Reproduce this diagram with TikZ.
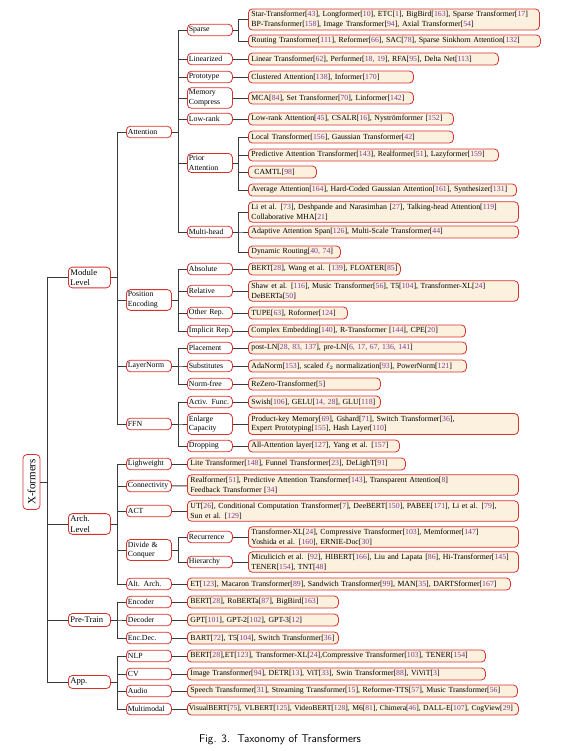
\documentclass[tikz,border=0pt]{standalone}
\usepackage{fontspec}
\setmainfont{Liberation Serif}
\usepackage{xcolor}
\usepackage{tikz}
\definecolor{TaxRed}{HTML}{D8322E}
\definecolor{TaxCream}{HTML}{FCF0DE}
\definecolor{TaxPurple}{HTML}{7E3A8E}
\definecolor{TaxLine}{HTML}{3A3A3A}
\newcommand{\leafsize}{\fontsize{7.8}{9.7}\selectfont}
\newcommand{\cit}[1]{[{\color{TaxPurple}#1}]}
\tikzset{
  taxbox/.style={draw=TaxRed,line width=0.8pt,rounded corners=4pt,fill=white,anchor=west,align=left,inner xsep=3pt,inner ysep=2.1pt,font=\leafsize},
  rootbox/.style={taxbox,anchor=center,rotate=90,minimum width=55pt,minimum height=17pt,inner xsep=2pt,align=center,font=\fontsize{11}{13}\selectfont},
  levelbox/.style={taxbox,text width=38pt,inner xsep=2pt,minimum height=13pt,font=\fontsize{8.6}{10.5}\selectfont},
  catbox/.style={taxbox,text width=42pt,inner xsep=1.5pt,minimum height=11.5pt},
  leafbox/.style={taxbox,fill=TaxCream,text width=#1,minimum height=12pt},
  branch/.style={line width=0.9pt,draw=TaxLine}
}

\begin{document}
\begin{tikzpicture}[x=1pt,y=-1pt]
\useasboundingbox (0,0) rectangle (571,751);
% root and first level
\node[rootbox] (xf) at (31.5,482) {X-formers};
\node[levelbox] (mod) at (68,277.5) {Module\\Level};
\node[levelbox] (arch) at (68,524) {Arch.\\Level};
\node[levelbox] (pre) at (68,620) {Pre-Train};
\node[levelbox] (app) at (68,682) {App.};
% second level
\node[catbox] (att) at (126,132) {Attention};
\node[catbox] (pos) at (126,300) {Position\\Encoding};
\node[catbox] (ln) at (126,366) {LayerNorm};
\node[catbox] (ffn) at (126,424) {FFN};
\node[catbox] (light) at (126,464) {Lighweight};
\node[catbox] (conn) at (126,486) {Connectivity};
\node[catbox] (act) at (126,511) {ACT};
\node[catbox] (dnc) at (126,550) {Divide \&\\Conquer};
\node[catbox] (alt) at (126,584) {Alt. Arch.};
\node[catbox] (enc) at (126,602) {Encoder};
\node[catbox] (dec) at (126,620) {Decoder};
\node[catbox] (encdec) at (126,638) {Enc.Dec.};
\node[catbox] (nlp) at (126,656) {NLP};
\node[catbox] (cv) at (126,674) {CV};
\node[catbox] (audio) at (126,691) {Audio};
\node[catbox] (multi) at (126,709) {Multimodal};
% third level
\node[catbox] (sparse) at (187,30) {Sparse};
\node[catbox] (linz) at (187,59) {Linearized};
\node[catbox] (proto) at (187,77) {Prototype};
\node[catbox] (memc) at (187,98) {Memory\\Compress};
\node[catbox] (lowr) at (187,119) {Low-rank};
\node[catbox] (prior) at (187,163) {Prior\\Attention};
\node[catbox] (mhead) at (187,232) {Multi-head};
\node[catbox] (absp) at (187,269) {Absolute};
\node[catbox] (relp) at (187,291) {Relative};
\node[catbox] (other) at (187,313) {Other Rep.};
\node[catbox] (implicit) at (187,331) {Implicit Rep.};
\node[catbox] (place) at (187,348) {Placement};
\node[catbox] (subst) at (187,366) {Substitutes};
\node[catbox] (nofree) at (187,384) {Norm-free};
\node[catbox] (activ) at (187,402) {Activ. Func.};
\node[catbox] (enlarge) at (187,424) {Enlarge\\Capacity};
\node[catbox] (drop) at (187,446) {Dropping};
\node[catbox] (recur) at (187,537) {Recurrence};
\node[catbox] (hier) at (187,562) {Hierarchy};
% leaves
\node[leafbox=285pt] (sparse-1) at (248,19.5) {Star-Transformer\cit{43}, Longformer\cit{10}, ETC\cit{1}, BigBird\cit{163}, Sparse Transformer\cit{17}\\BP-Transformer\cit{158}, Image Transformer\cit{94}, Axial Transformer\cit{54}};
\node[leafbox=286pt] (sparse-2) at (248,41) {Routing Transformer\cit{111}, Reformer\cit{66}, SAC\cit{78}, Sparse Sinkhorn Attention\cit{132}};
\node[leafbox=244pt] (linz-1) at (248,59) {Linear Transformer\cit{62}, Performer\cit{18, 19}, RFA\cit{95}, Delta Net\cit{113}};
\node[leafbox=159pt] (proto-1) at (248,77) {Clustered Attention\cit{138}, Informer\cit{170}};
\node[leafbox=159pt] (memc-1) at (248,98) {MCA\cit{84}, Set Transformer\cit{70}, Linformer\cit{142}};
\node[leafbox=199pt] (lowr-1) at (248,119) {Low-rank Attention\cit{45}, CSALR\cit{16}, Nystr\"omformer \cit{152}};
\node[leafbox=199pt] (prior-1) at (248,137) {Local Transformer\cit{156}, Gaussian Transformer\cit{42}};
\node[leafbox=244pt] (prior-2) at (248,155) {Predictive Attention Transformer\cit{143}, Realformer\cit{51}, Lazyformer\cit{159}};
\node[leafbox=62pt] (prior-3) at (248,172) {\hspace{3pt}CAMTL\cit{98}};
\node[leafbox=262pt] (prior-4) at (248,190) {Average Attention\cit{164}, Hard-Coded Gaussian Attention\cit{161}, Synthesizer\cit{131}};
\node[leafbox=264pt] (mhead-1) at (248,212) {Li et al. \cit{73}, Deshpande and Narasimhan \cit{27}, Talking-head Attention\cit{119}\\Collaborative MHA\cit{21}};
\node[leafbox=264pt] (mhead-2) at (248,232) {Adaptive Attention Span\cit{126}, Multi-Scale Transformer\cit{44}};
\node[leafbox=86pt] (mhead-3) at (248,252) {Dynamic Routing\cit{40, 74}};
\node[leafbox=146pt] (absp-1) at (248,269) {BERT\cit{28}, Wang et al. \cit{139}, FLOATER\cit{85}};
\node[leafbox=264pt] (relp-1) at (248,291) {Shaw et al. \cit{116}, Music Transformer\cit{56}, T5\cit{104}, Transformer-XL\cit{24}\\DeBERTa\cit{50}};
\node[leafbox=93pt] (other-1) at (248,313) {TUPE\cit{63}, Roformer\cit{124}};
\node[leafbox=211pt] (implicit-1) at (248,331) {Complex Embedding\cit{140}, R-Transformer \cit{144}, CPE\cit{20}};
\node[leafbox=212pt] (place-1) at (248,348) {post-LN\cit{28, 83, 137}, pre-LN\cit{6, 17, 67, 136, 141}};
\node[leafbox=212pt] (subst-1) at (248,366) {AdaNorm\cit{153}, scaled $\ell_2$ normalization\cit{93}, PowerNorm\cit{121}};
\node[leafbox=126pt] (nofree-1) at (248,384) {ReZero-Transformer\cit{5}};
\node[leafbox=126pt] (activ-1) at (248,402) {Swish\cit{106}, GELU\cit{14, 28}, GLU\cit{118}};
\node[leafbox=264pt] (enlarge-1) at (248,424) {Product-key Memory\cit{69}, Gshard\cit{71}, Switch Transformer\cit{36},\\Expert Prototyping\cit{155}, Hash Layer\cit{110}};
\node[leafbox=145pt] (drop-1) at (248,446) {All-Attention layer\cit{127}, Yang et al. \cit{157}};
\node[leafbox=212pt] (light-1) at (187,464) {Lite Transformer\cit{148}, Funnel Transformer\cit{23}, DeLighT\cit{91}};
\node[leafbox=325pt] (conn-1) at (187,485) {Realformer\cit{51}, Predictive Attention Transformer\cit{143}, Transparent Attention\cit{8}\\Feedback Transformer \cit{34}};
\node[leafbox=325pt] (act-1) at (187,511) {UT\cit{26}, Conditional Computation Transformer\cit{7}, DeeBERT\cit{150}, PABEE\cit{171}, Li et al. \cit{79},\\Sun et al. \cit{129}};
\node[leafbox=264pt] (recur-1) at (248,537) {Transformer-XL\cit{24}, Compressive Transformer\cit{103}, Memformer\cit{147}\\Yoshida et al. \cit{160}, ERNIE-Doc\cit{30}};
\node[leafbox=264pt] (hier-1) at (248,562) {Miculicich et al. \cit{92}, HIBERT\cit{166}, Liu and Lapata \cit{86}, Hi-Transformer\cit{145}\\TENER\cit{154}, TNT\cit{48}};
\node[leafbox=317pt] (alt-1) at (187,584) {ET\cit{123}, Macaron Transformer\cit{89}, Sandwich Transformer\cit{99}, MAN\cit{35}, DARTSformer\cit{167}};
\node[leafbox=145pt] (enc-1) at (187,602) {BERT\cit{28}, RoBERTa\cit{87}, BigBird\cit{163}};
\node[leafbox=145pt] (dec-1) at (187,620) {GPT\cit{101}, GPT-2\cit{102}, GPT-3\cit{12}};
\node[leafbox=145pt] (encdec-1) at (187,638) {BART\cit{72}, T5\cit{104}, Switch Transformer\cit{36}};
\node[leafbox=292pt] (nlp-1) at (187,656) {BERT\cit{28},ET\cit{123}, Transformer-XL\cit{24},Compressive Transformer\cit{103}, TENER\cit{154}};
\node[leafbox=292pt] (cv-1) at (187,674) {Image Transformer\cit{94}, DETR\cit{13}, ViT\cit{33}, Swin Transformer\cit{88}, ViViT\cit{3}};
\node[leafbox=324pt] (audio-1) at (187,691) {Speech Transformer\cit{31}, Streaming Transformer\cit{15}, Reformer-TTS\cit{57}, Music Transformer\cit{56}};
\node[leafbox=328pt,inner xsep=1.5pt,font=\fontsize{7.6}{9.7}\selectfont] (multi-1) at (187,709) {VisualBERT\cit{75}, VLBERT\cit{125}, VideoBERT\cit{128}, M6\cit{81}, Chimera\cit{46}, DALL-E\cit{107}, CogView\cit{29}};
% caption
\node[font=\sffamily\fontsize{11.3}{13}\selectfont] (caption) at (280,740) {Fig. 3.\ \ Taxonomy of Transformers};
% branches
\draw[branch] (xf.south) -- ++(7,0) |- (mod.west);
\draw[branch] (xf.south) -- ++(7,0) |- (arch.west);
\draw[branch] (xf.south) -- ++(7,0) |- (pre.west);
\draw[branch] (xf.south) -- ++(7,0) |- (app.west);
\draw[branch] (mod.east) -- ++(7,0) |- (att.west);
\draw[branch] (mod.east) -- ++(7,0) |- (pos.west);
\draw[branch] (mod.east) -- ++(7,0) |- (ln.west);
\draw[branch] (mod.east) -- ++(7,0) |- (ffn.west);
\draw[branch] (arch.east) -- ++(7,0) |- (light.west);
\draw[branch] (arch.east) -- ++(7,0) |- (conn.west);
\draw[branch] (arch.east) -- ++(7,0) |- (act.west);
\draw[branch] (arch.east) -- ++(7,0) |- (dnc.west);
\draw[branch] (arch.east) -- ++(7,0) |- (alt.west);
\draw[branch] (pre.east) -- ++(7,0) |- (enc.west);
\draw[branch] (pre.east) -- ++(7,0) |- (dec.west);
\draw[branch] (pre.east) -- ++(7,0) |- (encdec.west);
\draw[branch] (app.east) -- ++(7,0) |- (nlp.west);
\draw[branch] (app.east) -- ++(7,0) |- (cv.west);
\draw[branch] (app.east) -- ++(7,0) |- (audio.west);
\draw[branch] (app.east) -- ++(7,0) |- (multi.west);
\draw[branch] (att.east) -- ++(7,0) |- (sparse.west);
\draw[branch] (att.east) -- ++(7,0) |- (linz.west);
\draw[branch] (att.east) -- ++(7,0) |- (proto.west);
\draw[branch] (att.east) -- ++(7,0) |- (memc.west);
\draw[branch] (att.east) -- ++(7,0) |- (lowr.west);
\draw[branch] (att.east) -- ++(7,0) |- (prior.west);
\draw[branch] (att.east) -- ++(7,0) |- (mhead.west);
\draw[branch] (pos.east) -- ++(7,0) |- (absp.west);
\draw[branch] (pos.east) -- ++(7,0) |- (relp.west);
\draw[branch] (pos.east) -- ++(7,0) |- (other.west);
\draw[branch] (pos.east) -- ++(7,0) |- (implicit.west);
\draw[branch] (ln.east) -- ++(7,0) |- (place.west);
\draw[branch] (ln.east) -- ++(7,0) |- (subst.west);
\draw[branch] (ln.east) -- ++(7,0) |- (nofree.west);
\draw[branch] (ffn.east) -- ++(7,0) |- (activ.west);
\draw[branch] (ffn.east) -- ++(7,0) |- (enlarge.west);
\draw[branch] (ffn.east) -- ++(7,0) |- (drop.west);
\draw[branch] (dnc.east) -- ++(7,0) |- (recur.west);
\draw[branch] (dnc.east) -- ++(7,0) |- (hier.west);
\draw[branch] (light) -- (light-1);
\draw[branch] (conn) -- (conn-1);
\draw[branch] (act) -- (act-1);
\draw[branch] (alt) -- (alt-1);
\draw[branch] (enc) -- (enc-1);
\draw[branch] (dec) -- (dec-1);
\draw[branch] (encdec) -- (encdec-1);
\draw[branch] (nlp) -- (nlp-1);
\draw[branch] (cv) -- (cv-1);
\draw[branch] (audio) -- (audio-1);
\draw[branch] (multi) -- (multi-1);
\draw[branch] (sparse.east) -- ++(6,0) |- (sparse-1.west);
\draw[branch] (sparse.east) -- ++(6,0) |- (sparse-2.west);
\draw[branch] (linz) -- (linz-1);
\draw[branch] (proto) -- (proto-1);
\draw[branch] (memc) -- (memc-1);
\draw[branch] (lowr) -- (lowr-1);
\draw[branch] (prior.east) -- ++(6,0) |- (prior-1.west);
\draw[branch] (prior.east) -- ++(6,0) |- (prior-2.west);
\draw[branch] (prior.east) -- ++(6,0) |- (prior-3.west);
\draw[branch] (prior.east) -- ++(6,0) |- (prior-4.west);
\draw[branch] (mhead.east) -- ++(6,0) |- (mhead-1.west);
\draw[branch] (mhead.east) -- ++(6,0) |- (mhead-2.west);
\draw[branch] (mhead.east) -- ++(6,0) |- (mhead-3.west);
\draw[branch] (absp) -- (absp-1);
\draw[branch] (relp) -- (relp-1);
\draw[branch] (other) -- (other-1);
\draw[branch] (implicit) -- (implicit-1);
\draw[branch] (place) -- (place-1);
\draw[branch] (subst) -- (subst-1);
\draw[branch] (nofree) -- (nofree-1);
\draw[branch] (activ) -- (activ-1);
\draw[branch] (enlarge) -- (enlarge-1);
\draw[branch] (drop) -- (drop-1);
\draw[branch] (recur) -- (recur-1);
\draw[branch] (hier) -- (hier-1);
\end{tikzpicture}
\end{document}
